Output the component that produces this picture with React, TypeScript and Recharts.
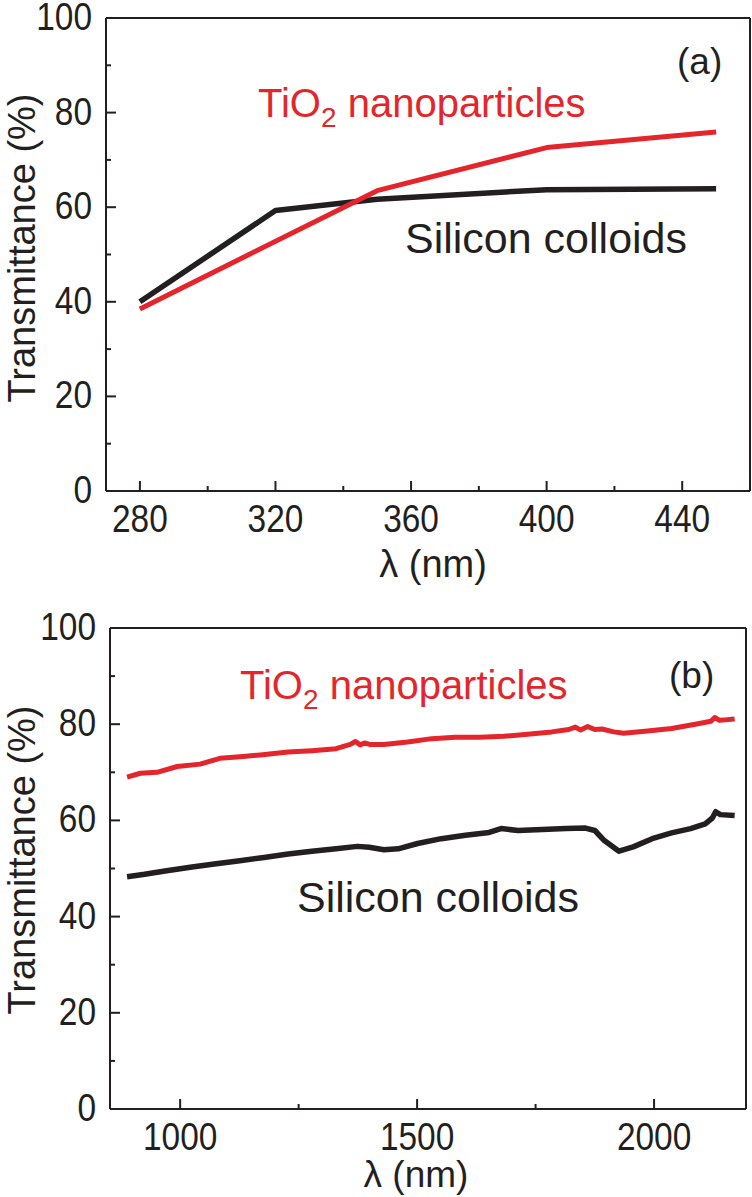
import React from "react";
import { LineChart, Line, XAxis, YAxis } from "recharts";

// panel (a): UV range
const uvSilicon = [
    { nm: 280, t: 40.0 },
    { nm: 320, t: 59.3 },
    { nm: 350, t: 61.7 },
    { nm: 400, t: 63.7 },
    { nm: 450, t: 63.9 },
];
const uvTiO2 = [
    { nm: 280, t: 38.5 },
    { nm: 350, t: 63.5 },
    { nm: 400, t: 72.6 },
    { nm: 450, t: 75.9 },
];

// panel (b): NIR range
const nirTiO2 = [
    { nm: 888, t: 69.0 }, { nm: 916, t: 69.8 }, { nm: 951, t: 70.0 }, { nm: 994, t: 71.2 },
    { nm: 1042, t: 71.7 }, { nm: 1084, t: 72.9 }, { nm: 1133, t: 73.3 }, { nm: 1169, t: 73.6 },
    { nm: 1228, t: 74.2 }, { nm: 1278, t: 74.5 }, { nm: 1329, t: 74.9 }, { nm: 1359, t: 75.8 },
    { nm: 1370, t: 76.4 }, { nm: 1380, t: 75.7 }, { nm: 1389, t: 76.1 }, { nm: 1400, t: 75.8 },
    { nm: 1430, t: 75.8 }, { nm: 1480, t: 76.3 }, { nm: 1531, t: 77.0 }, { nm: 1581, t: 77.3 },
    { nm: 1632, t: 77.3 }, { nm: 1683, t: 77.5 }, { nm: 1733, t: 77.9 }, { nm: 1784, t: 78.4 },
    { nm: 1820, t: 78.9 }, { nm: 1834, t: 79.4 }, { nm: 1845, t: 78.8 }, { nm: 1860, t: 79.5 },
    { nm: 1875, t: 78.9 }, { nm: 1890, t: 79.0 }, { nm: 1915, t: 78.4 }, { nm: 1936, t: 78.1 },
    { nm: 1986, t: 78.6 }, { nm: 2037, t: 79.1 }, { nm: 2087, t: 80.0 }, { nm: 2120, t: 80.6 },
    { nm: 2128, t: 81.4 }, { nm: 2138, t: 80.8 }, { nm: 2150, t: 80.9 }, { nm: 2170, t: 81.1 },
];
const nirSilicon = [
    { nm: 888, t: 48.3 }, { nm: 925, t: 48.8 }, { nm: 975, t: 49.6 }, { nm: 1025, t: 50.3 },
    { nm: 1076, t: 51.0 }, { nm: 1126, t: 51.6 }, { nm: 1177, t: 52.3 }, { nm: 1228, t: 53.0 },
    { nm: 1278, t: 53.6 }, { nm: 1329, t: 54.1 }, { nm: 1374, t: 54.6 }, { nm: 1399, t: 54.4 },
    { nm: 1430, t: 53.9 }, { nm: 1460, t: 54.1 }, { nm: 1501, t: 55.2 }, { nm: 1551, t: 56.2 },
    { nm: 1602, t: 56.9 }, { nm: 1652, t: 57.5 }, { nm: 1677, t: 58.3 }, { nm: 1713, t: 57.9 },
    { nm: 1764, t: 58.1 }, { nm: 1814, t: 58.3 }, { nm: 1855, t: 58.4 }, { nm: 1875, t: 57.9 },
    { nm: 1895, t: 55.8 }, { nm: 1926, t: 53.6 }, { nm: 1956, t: 54.5 }, { nm: 1996, t: 56.2 },
    { nm: 2037, t: 57.4 }, { nm: 2077, t: 58.3 }, { nm: 2108, t: 59.3 }, { nm: 2123, t: 60.5 },
    { nm: 2130, t: 61.8 }, { nm: 2140, t: 61.2 }, { nm: 2170, t: 61.0 },
];

// ticks
const yTicks = [0, 10, 20, 30, 40, 50, 60, 70, 80, 90, 100];
const uvTicks = [280, 300, 320, 340, 360, 380, 400, 420, 440];
const nirTicks = [1000, 1250, 1500, 1750, 2000];

const INK = "#231f20";
const RED = "#e4262c";
const FONT = "'Liberation Sans', Arial, sans-serif";

// tick numbers are a bit narrow in the original
function TickText({ x, y, anchor, children }) {
    return (
        <text
            transform={`translate(${x} ${y}) scale(0.88 1)`}
            textAnchor={anchor}
            fontSize={38}
            fontFamily={FONT}
            fill={INK}
        >
            {children}
        </text>
    );
}

function makeYTick(step) {
    return function YTick(props) {
        const { x, y, payload } = props;
        const major = payload.value % step === 0;
        return (
            <g>
                <line x1={x} x2={x + (major ? 10 : 5)} y1={y} y2={y} stroke={INK} strokeWidth={2} />
                {major && (
                    <TickText x={x - 14} y={y + 12} anchor="end">
                        {payload.value}
                    </TickText>
                )}
            </g>
        );
    };
}

function makeXTick(step) {
    return function XTick(props) {
        const { x, y, payload } = props;
        const major = payload.value % step === 0;
        return (
            <g>
                <line x1={x} x2={x} y1={y} y2={y - (major ? 10 : 5)} stroke={INK} strokeWidth={2} />
                {major && (
                    <TickText x={x} y={y + 41} anchor="middle">
                        {payload.value}
                    </TickText>
                )}
            </g>
        );
    };
}

function Panel({ width, height, margin, domain, xTicks, xStep, black, red }) {
    return (
        <LineChart width={width} height={height} margin={margin}>
            <XAxis
                type="number"
                dataKey="nm"
                domain={domain}
                ticks={xTicks}
                interval={0}
                allowDataOverflow
                height={1}
                tickSize={0}
                tickMargin={0}
                tickLine={false}
                axisLine={{ stroke: INK, strokeWidth: 2 }}
                tick={makeXTick(xStep)}
            />
            <XAxis
                xAxisId="top"
                orientation="top"
                type="number"
                domain={domain}
                height={1}
                tick={false}
                tickLine={false}
                axisLine={{ stroke: INK, strokeWidth: 2 }}
            />
            <YAxis
                type="number"
                domain={[0, 100]}
                ticks={yTicks}
                interval={0}
                width={1}
                tickSize={0}
                tickMargin={0}
                tickLine={false}
                axisLine={{ stroke: INK, strokeWidth: 2 }}
                tick={makeYTick(20)}
            />
            <YAxis
                yAxisId="right"
                orientation="right"
                type="number"
                domain={[0, 100]}
                width={1}
                tick={false}
                tickLine={false}
                axisLine={{ stroke: INK, strokeWidth: 2 }}
            />
            <Line
                data={black}
                dataKey="t"
                type="linear"
                stroke={INK}
                strokeWidth={5.5}
                strokeLinejoin="round"
                dot={false}
                isAnimationActive={false}
            />
            <Line
                data={red}
                dataKey="t"
                type="linear"
                stroke={RED}
                strokeWidth={5}
                strokeLinejoin="round"
                dot={false}
                isAnimationActive={false}
            />
        </LineChart>
    );
}

export default function App() {
    const txt = { fontFamily: FONT };
    return (
        <div style={{ position: "absolute", left: 0, top: 0, width: 752, height: 1197, background: "#fff", overflow: "hidden" }}>
            <div style={{ position: "absolute", left: 0, top: 0 }}>
                <Panel
                    width={752}
                    height={600}
                    margin={{ top: 17, right: 1, bottom: 108, left: 105 }}
                    domain={[270, 460]}
                    xTicks={uvTicks}
                    xStep={40}
                    black={uvSilicon}
                    red={uvTiO2}
                />
            </div>
            <div style={{ position: "absolute", left: 0, top: 600 }}>
                <Panel
                    width={752}
                    height={597}
                    margin={{ top: 27, right: 5, bottom: 87, left: 109 }}
                    domain={[852, 2194]}
                    xTicks={nirTicks}
                    xStep={500}
                    black={nirSilicon}
                    red={nirTiO2}
                />
            </div>
            <svg width={752} height={1197} style={{ position: "absolute", left: 0, top: 0, pointerEvents: "none" }}>
                {/* panel (a) labels */}
                <text x={677} y={74} fontSize={37} fill={INK} style={txt}>(a)</text>
                <text x={258} y={117} fontSize={40} fill={RED} style={txt}>
                    TiO<tspan fontSize={28} dy={10}>2</tspan><tspan dy={-10}> nanoparticles</tspan>
                </text>
                <text x={405} y={253} fontSize={43} fill={INK} style={txt}>Silicon colloids</text>
                <text x={433} y={577} fontSize={38} textAnchor="middle" fill={INK} style={txt}>λ (nm)</text>
                <text transform="translate(35 248) rotate(-90)" fontSize={38} textAnchor="middle" fill={INK} style={txt}>
                    Transmittance (%)
                </text>

                {/* panel (b) labels */}
                <text x={669} y={688} fontSize={37} fill={INK} style={txt}>(b)</text>
                <text x={240} y={699} fontSize={40} fill={RED} style={txt}>
                    TiO<tspan fontSize={28} dy={10}>2</tspan><tspan dy={-10}> nanoparticles</tspan>
                </text>
                <text x={297} y={912} fontSize={43} fill={INK} style={txt}>Silicon colloids</text>
                <text x={416} y={1187} fontSize={37} textAnchor="middle" fill={INK} style={txt}>λ (nm)</text>
                <text transform="translate(35 860) rotate(-90)" fontSize={38} textAnchor="middle" fill={INK} style={txt}>
                    Transmittance (%)
                </text>
            </svg>
        </div>
    );
}
